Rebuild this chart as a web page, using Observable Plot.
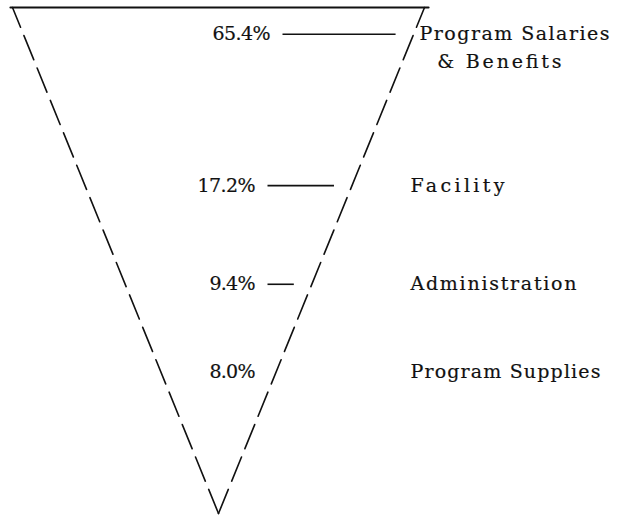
<!DOCTYPE html>
<html>
<head>
<meta charset="utf-8">
<script src="https://cdn.jsdelivr.net/npm/d3@7"></script>
<script src="https://cdn.jsdelivr.net/npm/@observablehq/plot@0.6"></script>
<style>
  html, body { margin: 0; padding: 0; background: #fff; }
  #chart svg { display: block; }
</style>
</head>
<body>
<div id="chart"></div>
<script>
// ---- data ----
const categories = ["Program Salaries & Benefits", "Facility", "Administration", "Program Supplies"];
const shares = [65.4, 17.2, 9.4, 8.0];
const shareLabels = ["65.4%", "17.2%", "9.4%", "8.0%"];
const categoryLines = [["Program Salaries", "\u00a0\u00a0& Benefits"], ["Facility"], ["Administration"], ["Program Supplies"]];

// ---- layout (funnel units: x -1..1 across the top, depth 0 top .. 1 apex) ----
const W = 634, H = 517;
const xRange = [12, 424], yRange = [7, 513];
const px = (p) => (p - (xRange[0] + xRange[1]) / 2) / ((xRange[1] - xRange[0]) / 2); // pixel -> funnel unit
const rowDepth = [0.053, 0.352, 0.547, 0.721];
const pctRight = [px(270), px(255), px(255), px(255)];
const catLeft = [px(419), px(410), px(410), px(410)];
const gapLeft = 12 / 206, gapRight = 18 / 206;
const lineStep = 28;
const charAdvance = 12; // typewriter pitch

const rows = categories.map((c, i) => ({
  category: c,
  share: shares[i],
  label: shareLabels[i],
  depth: rowDepth[i],
  pctX: pctRight[i],
  catX: catLeft[i],
  x1: pctRight[i] + gapLeft,
  x2: (1 - rowDepth[i]) - gapRight,
  first: categoryLines[i][0],
  rest: categoryLines[i].slice(1).join("\n")
}));

const leftSide = [{x: 0, y: 1}, {x: -1, y: 0}];
const rightSide = [{x: 0, y: 1}, {x: 1, y: 0}];
const topEdge = [{x: px(10), y: 0}, {x: px(428), y: 0}];

const font = "'DejaVu Serif', 'Liberation Serif', serif";
const textStyle = {fontSize: 19, fill: "#111", stroke: "#111", strokeWidth: 0.2};

const chart = Plot.plot({
  width: W,
  height: H,
  margin: 0,
  style: {background: "#fff", fontFamily: font},
  x: {domain: [-1, 1], range: xRange, axis: null},
  y: {domain: [0, 1], range: yRange, axis: null},
  marks: [
    Plot.line(topEdge, {x: "x", y: "y", stroke: "#111", strokeWidth: 2.2}),
    Plot.line(leftSide, {x: "x", y: "y", stroke: "#111", strokeWidth: 1.6, strokeDasharray: "26,9"}),
    Plot.line(rightSide, {x: "x", y: "y", stroke: "#111", strokeWidth: 1.6, strokeDasharray: "26,9"}),
    Plot.link(rows.filter(d => d.x2 > d.x1), {x1: "x1", x2: "x2", y1: "depth", y2: "depth", stroke: "#111", strokeWidth: 1.6}),
    Plot.text(rows, {x: "pctX", y: "depth", text: "label", textAnchor: "end", ...textStyle}),
    Plot.text(rows, {x: "catX", y: "depth", text: "first", textAnchor: "start", ...textStyle}),
    Plot.text(rows.filter(d => d.rest), {x: "catX", y: "depth", dy: lineStep, text: "rest", textAnchor: "start", ...textStyle})
  ]
});
// give the labels a fixed typewriter pitch
chart.querySelectorAll("text").forEach(t => {
  const n = t.textContent.length;
  if (n > 1) {
    t.setAttribute("textLength", n * charAdvance - 2);
    t.setAttribute("lengthAdjust", "spacing");
  }
});
document.getElementById("chart").append(chart);
</script>
</body>
</html>
